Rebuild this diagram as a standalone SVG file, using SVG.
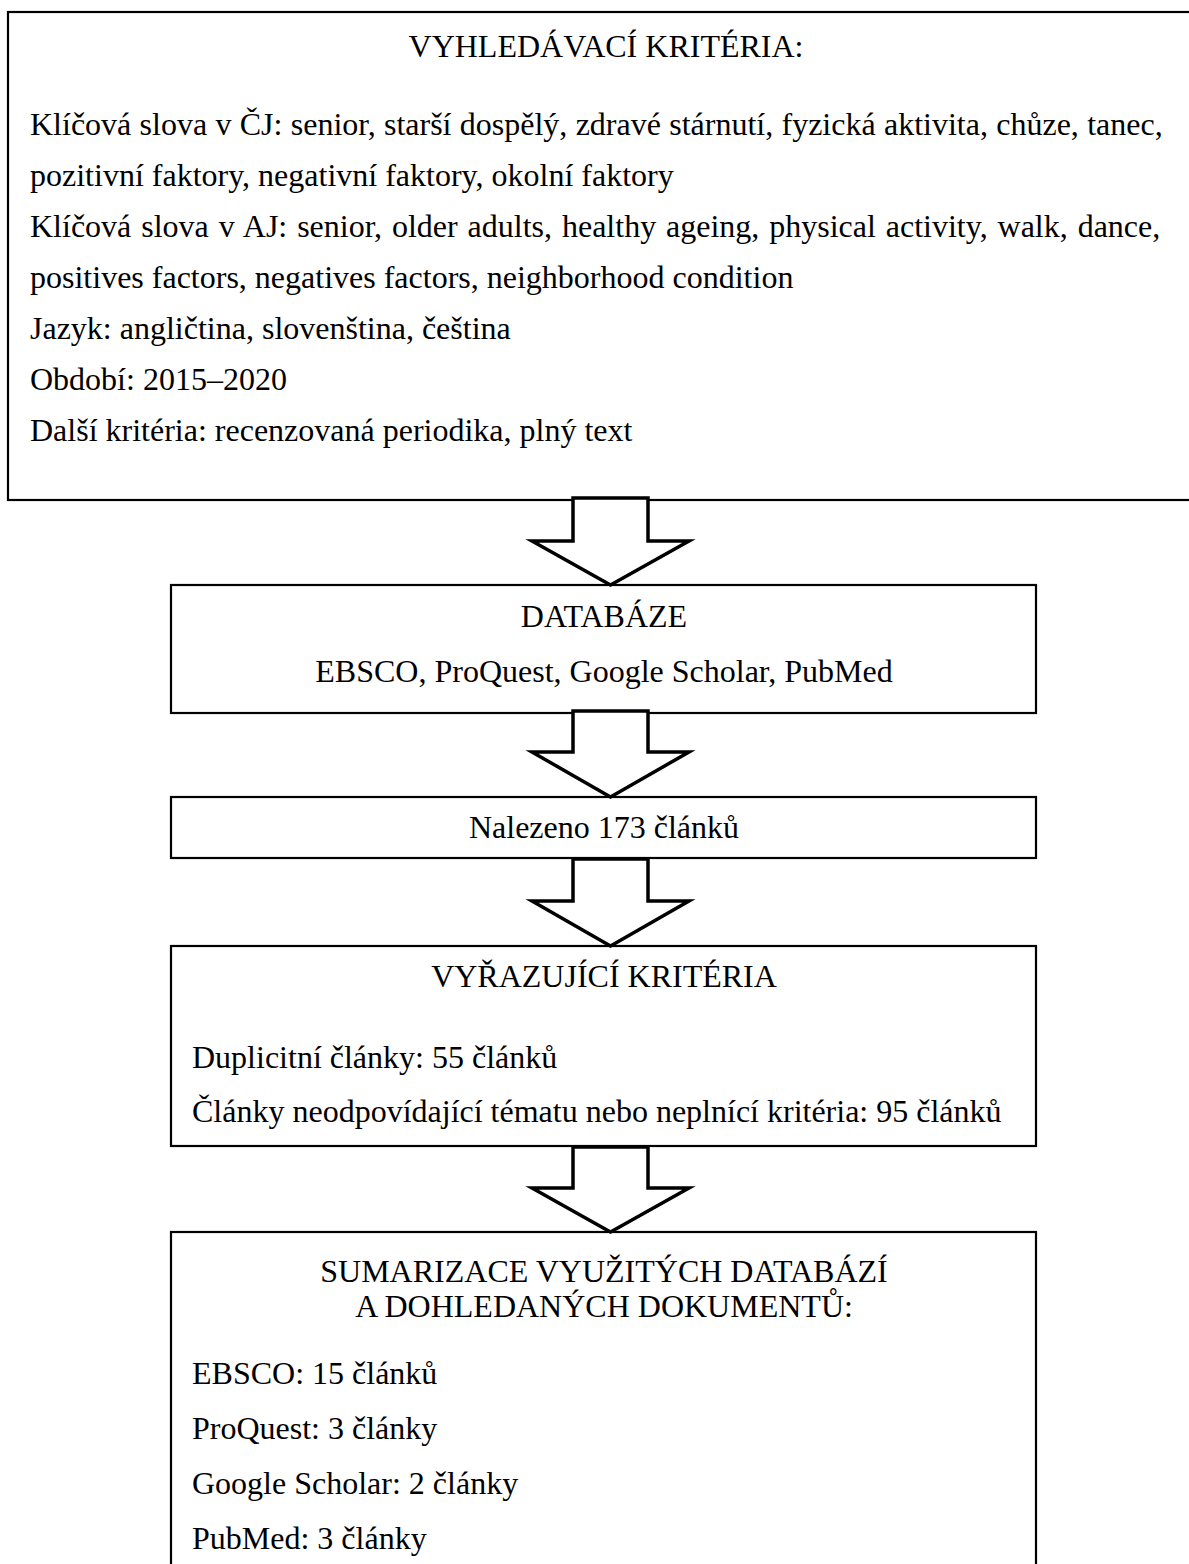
<svg xmlns="http://www.w3.org/2000/svg" width="1189" height="1564" viewBox="0 0 1189 1564">
<defs>
<style>
.box{fill:#fff;stroke:#000;stroke-width:2.2}
.arr{fill:#fff;stroke:#000;stroke-width:3.5;stroke-linejoin:miter}
text{font-family:"Liberation Serif","Times New Roman",serif;font-size:32px;fill:#000}
.c{text-anchor:middle}
</style>
</defs>
<rect width="1189" height="1564" fill="#fff"/>
<g id="n-vyhledavaci">
<rect class="box" x="8" y="12" width="1200" height="488"/>
<text class="c" x="606" y="57">VYHLEDÁVACÍ KRITÉRIA:</text>
<text x="30" y="135" word-spacing="0.3">Klíčová slova v ČJ: senior, starší dospělý, zdravé stárnutí, fyzická aktivita, chůze, tanec,</text>
<text x="30" y="186">pozitivní faktory, negativní faktory, okolní faktory</text>
<text x="30" y="237" word-spacing="1.9">Klíčová slova v AJ: senior, older adults, healthy ageing, physical activity, walk, dance,</text>
<text x="30" y="288">positives factors, negatives factors, neighborhood condition</text>
<text x="30" y="339">Jazyk: angličtina, slovenština, čeština</text>
<text x="30" y="390">Období: 2015–2020</text>
<text x="30" y="441">Další kritéria: recenzovaná periodika, plný text</text>
</g>
<g id="n-databaze">
<rect class="box" x="171" y="585" width="865" height="128"/>
<text class="c" x="604" y="627">DATABÁZE</text>
<text class="c" x="604" y="682">EBSCO, ProQuest, Google Scholar, PubMed</text>
</g>
<g id="n-nalezeno">
<rect class="box" x="171" y="797" width="865" height="61"/>
<text class="c" x="604" y="838">Nalezeno 173 článků</text>
</g>
<g id="n-vyrazujici">
<rect class="box" x="171" y="946" width="865" height="200"/>
<text class="c" x="604" y="987">VYŘAZUJÍCÍ KRITÉRIA</text>
<text x="192" y="1068">Duplicitní články: 55 článků</text>
<text x="192" y="1122">Články neodpovídající tématu nebo neplnící kritéria: 95 článků</text>
</g>
<g id="n-sumarizace">
<rect class="box" x="171" y="1232" width="865" height="400"/>
<text class="c" x="604" y="1282">SUMARIZACE VYUŽITÝCH DATABÁZÍ</text>
<text class="c" x="604" y="1317">A DOHLEDANÝCH DOKUMENTŮ:</text>
<text x="192" y="1384">EBSCO: 15 článků</text>
<text x="192" y="1439">ProQuest: 3 články</text>
<text x="192" y="1494">Google Scholar: 2 články</text>
<text x="192" y="1549">PubMed: 3 články</text>
</g>
<g id="connectors">
<path class="arr" d="M573 498 H648 V541 H689 L610.5 585 L532 541 H573 Z"/>
<path class="arr" d="M573 711 H648 V752 H689 L610.5 797 L532 752 H573 Z"/>
<path class="arr" d="M573 859 H648 V901 H689 L610.5 946 L532 901 H573 Z"/>
<path class="arr" d="M573 1147 H648 V1188 H689 L610.5 1232 L532 1188 H573 Z"/>
</g>
</svg>
